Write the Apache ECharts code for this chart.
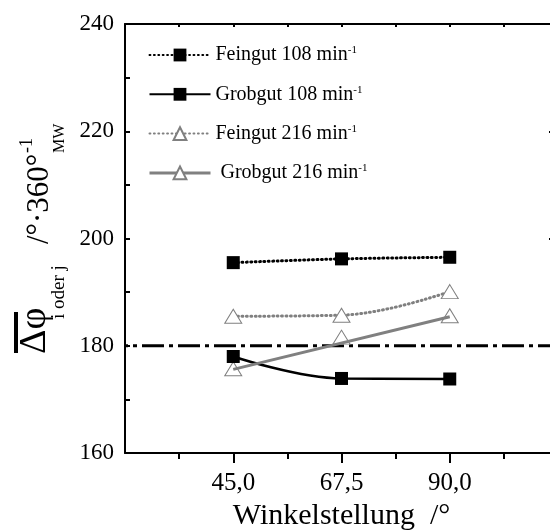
<!DOCTYPE html>
<html>
<head>
<meta charset="utf-8">
<script src="https://cdn.jsdelivr.net/npm/echarts@6/dist/echarts.min.js"></script>
<style>html,body{margin:0;padding:0;background:#fff}#c{width:550px;height:531px}</style>
</head>
<body>
<div id="c"></div>
<script>
// ---- data ----
const xValues = [45, 67.5, 90];
const seriesNames = ['Feingut 108', 'Grobgut 108', 'Feingut 216', 'Grobgut 216'];
const feingut108 = [195.5, 196.2, 196.5];
const grobgut108 = [178.0, 173.9, 173.8];
const feingut216 = [185.5, 185.7, 190.1];
const grobgut216 = [175.7, 181.6, 185.6];
const grobgut216FitX = [45, 90];
const grobgut216Fit = [175.6, 185.4];
const refValue = 180;
const xMajorTicks = [45, 67.5, 90];
const xMinorTicks = [33.75, 56.25, 78.75, 101.25];
const xMin = 22.5, xMax = 112.5;
const yMin = 160, yMax = 240;

const pairs = (xs, ys) => xs.map((x, i) => [x, ys[i]]);
const FONT = '"Liberation Serif", "Times New Roman", serif';
const GRAY = '#808080';
const dotted = [0.9, 3.5];

const chart = echarts.init(document.getElementById('c'), null, {renderer: 'canvas'});
chart.setOption({
  animation: false,
  backgroundColor: '#fff',
  grid: {left: 125, top: 24, width: 433, height: 429, outerBoundsMode: 'none', containLabel: false},
  xAxis: [
    {
      type: 'value', min: xMin, max: xMax, position: 'bottom',
      name: 'Winkelstellung  /°', nameLocation: 'middle', nameGap: 47,
      nameTextStyle: {fontFamily: FONT, fontSize: 30, color: '#000'},
      axisLine: {show: true, onZero: false, lineStyle: {color: '#000', width: 2}},
      axisTick: {show: true, inside: false, length: 10, customValues: xMajorTicks, lineStyle: {color: '#000', width: 2}},
      axisLabel: {customValues: xMajorTicks, margin: 18, fontFamily: FONT, fontSize: 25, color: '#000',
        formatter: v => v.toFixed(1).replace('.', ',')},
      splitLine: {show: false}
    },
    {
      type: 'value', min: xMin, max: xMax, position: 'bottom',
      axisLine: {show: false},
      axisTick: {show: true, inside: false, length: 6, customValues: xMinorTicks, lineStyle: {color: '#000', width: 2}},
      axisLabel: {show: false},
      splitLine: {show: false}
    },
    {
      type: 'value', min: xMin, max: xMax, interval: 11.25, position: 'top',
      axisLine: {show: true, onZero: false, lineStyle: {color: '#000', width: 2}},
      axisTick: {show: true, inside: true, length: 3, lineStyle: {color: '#000', width: 2}},
      axisLabel: {show: false},
      splitLine: {show: false}
    }
  ],
  yAxis: [
    {
      type: 'value', min: yMin, max: yMax, interval: 10, position: 'left',
      axisLine: {show: true, onZero: false, lineStyle: {color: '#000', width: 2}},
      axisTick: {show: true, inside: true, length: 5, lineStyle: {color: '#000', width: 2}},
      axisLabel: {margin: 11, fontFamily: FONT, fontSize: 23, color: '#000',
        formatter: v => (v % 20 === 0 ? String(v) : '')},
      splitLine: {show: false}
    },
    {
      type: 'value', min: yMin, max: yMax, interval: 20, position: 'right',
      axisLine: {show: true, onZero: false, lineStyle: {color: '#000', width: 2}},
      axisTick: {show: true, inside: true, length: 9, lineStyle: {color: '#000', width: 2}},
      axisLabel: {show: false},
      splitLine: {show: false}
    }
  ],
  legend: {
    orient: 'vertical', left: 148, top: 45, padding: 0,
    itemWidth: 61, itemHeight: 16, itemGap: 18.3,
    data: [
      {name: 'Feingut 108'},
      {name: 'Grobgut 108'},
      {name: 'Feingut 216'},
      {name: 'Grobgut 216', lineStyle: {color: GRAY, width: 3, type: 'solid', opacity: 1}}
    ],
    formatter: n => '{a|' + (n === 'Grobgut 216' ? ' ' : '') + n + ' min}{b|-1}',
    textStyle: {
      fontFamily: FONT, fontSize: 20, color: '#000', lineHeight: 20,
      rich: {
        a: {fontFamily: FONT, fontSize: 20, color: '#000', lineHeight: 20},
        b: {fontFamily: FONT, fontSize: 11, color: '#000', lineHeight: 20, verticalAlign: 'top', padding: [0, 0, 10, 0]}
      }
    }
  },
  series: [
    {
      name: 'ref', type: 'line', xAxisIndex: 0, yAxisIndex: 0,
      data: [[xMin, refValue], [xMax, refValue]], symbol: 'none', silent: true, z: 1,
      lineStyle: {color: '#000', width: 3, type: [22, 5, 4, 5], dashOffset: 19}
    },
    {
      name: 'Feingut 108', type: 'line', data: pairs(xValues, feingut108), smooth: 0.3,
      symbol: 'rect', symbolSize: 13, z: 3,
      itemStyle: {color: '#000', borderWidth: 0},
      lineStyle: {color: '#000', width: 3, type: dotted, cap: 'round'}
    },
    {
      name: 'Grobgut 108', type: 'line', data: pairs(xValues, grobgut108), smooth: 0.4,
      symbol: 'rect', symbolSize: 13, z: 3,
      itemStyle: {color: '#000', borderWidth: 0},
      lineStyle: {color: '#000', width: 2.6, type: 'solid'}
    },
    {
      name: 'Feingut 216', type: 'line', data: pairs(xValues, feingut216), smooth: 0.4,
      symbol: 'triangle', symbolSize: [17, 14], z: 3,
      itemStyle: {color: '#fff', borderColor: GRAY, borderWidth: 1},
      lineStyle: {color: GRAY, width: 3, type: dotted, cap: 'round'}
    },
    {
      name: 'Grobgut 216', type: 'line', data: pairs(xValues, grobgut216),
      symbol: 'triangle', symbolSize: [17, 14], z: 2,
      itemStyle: {color: '#fff', borderColor: GRAY, borderWidth: 1},
      lineStyle: {color: GRAY, width: 3, opacity: 0}
    },
    {
      name: 'Grobgut 216 fit', type: 'line', data: pairs(grobgut216FitX, grobgut216Fit),
      symbol: 'none', z: 4,
      lineStyle: {color: GRAY, width: 3, type: 'solid'}
    }
  ],
  graphic: [
    {type: 'rect', shape: {x: 14, y: 312, width: 4, height: 41}, style: {fill: '#000'}},
    {type: 'text', x: 35, y: 354, rotation: Math.PI / 2,
      style: {text: 'Δφ', fontFamily: FONT, fontSize: 38, fill: '#000', align: 'left', verticalAlign: 'middle'}},
    {type: 'text', x: 59, y: 319, rotation: Math.PI / 2,
      style: {text: 'i oder j', fontFamily: FONT, fontSize: 19, fill: '#000', align: 'left', verticalAlign: 'middle'}},
    {type: 'text', x: 40, y: 244, rotation: Math.PI / 2,
      style: {text: '/°·360°', fontFamily: FONT, fontSize: 31, fill: '#000', align: 'left', verticalAlign: 'middle'}},
    {type: 'text', x: 27, y: 153, rotation: Math.PI / 2,
      style: {text: '-1', fontFamily: FONT, fontSize: 18, fill: '#000', align: 'left', verticalAlign: 'middle'}},
    {type: 'text', x: 60, y: 153, rotation: Math.PI / 2,
      style: {text: 'MW', fontFamily: FONT, fontSize: 16, fill: '#000', align: 'left', verticalAlign: 'middle'}}
  ]
});
</script>
</body>
</html>
